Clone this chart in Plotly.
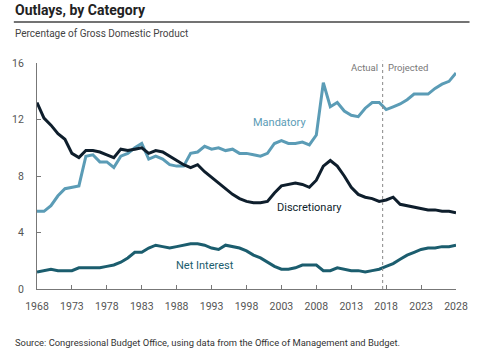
import plotly.graph_objects as go

years = list(range(1968, 2029))

mandatory = [5.5, 5.5, 5.9, 6.6, 7.1, 7.2, 7.3, 9.4, 9.5, 9.0,
             9.0, 8.6, 9.4, 9.6, 10.0, 10.3, 9.2, 9.4, 9.2, 8.8,
             8.7, 8.7, 9.6, 9.7, 10.1, 9.9, 10.0, 9.8, 9.9, 9.6,
             9.6, 9.5, 9.4, 9.6, 10.3, 10.5, 10.3, 10.3, 10.4, 10.2,
             10.9, 14.6, 12.9, 13.2, 12.6, 12.3, 12.2, 12.8, 13.2, 13.2,
             12.7, 12.9, 13.1, 13.4, 13.8, 13.8, 13.8, 14.2, 14.5, 14.7,
             15.3]

discretionary = [13.2, 12.1, 11.6, 11.0, 10.6, 9.6, 9.3, 9.8, 9.8, 9.7,
                 9.5, 9.3, 9.9, 9.8, 9.9, 10.0, 9.6, 9.8, 9.7, 9.4,
                 9.1, 8.8, 8.6, 8.8, 8.3, 7.9, 7.5, 7.1, 6.7, 6.4,
                 6.2, 6.1, 6.1, 6.2, 6.8, 7.3, 7.4, 7.5, 7.4, 7.2,
                 7.7, 8.7, 9.1, 8.7, 8.0, 7.2, 6.7, 6.5, 6.4, 6.2,
                 6.3, 6.5, 6.0, 5.9, 5.8, 5.7, 5.6, 5.6, 5.5, 5.5,
                 5.4]

net_interest = [1.2, 1.3, 1.4, 1.3, 1.3, 1.3, 1.5, 1.5, 1.5, 1.5,
                1.6, 1.7, 1.9, 2.2, 2.6, 2.6, 2.9, 3.1, 3.0, 2.9,
                3.0, 3.1, 3.2, 3.2, 3.1, 2.9, 2.8, 3.1, 3.0, 2.9,
                2.7, 2.4, 2.2, 1.9, 1.6, 1.4, 1.4, 1.5, 1.7, 1.7,
                1.7, 1.3, 1.3, 1.5, 1.4, 1.3, 1.3, 1.2, 1.3, 1.4,
                1.6, 1.8, 2.1, 2.4, 2.6, 2.8, 2.9, 2.9, 3.0, 3.0,
                3.1]

x_ticks = list(range(1968, 2029, 5))
y_ticks = [0, 4, 8, 12, 16]
divider_year = 2017.5

C_MAND = "#5b9cb6"
C_DISC = "#0e1e2c"
C_NI = "#1b5d6e"
FONT = "Roboto, sans-serif"

W, H = 480, 360
ml, mr, mt, mb = 28, 18, 63, 71
pw, ph = W - ml - mr, H - mt - mb


def px(xp):
    return (xp - ml) / pw


def py(yp):
    return (H - mb - yp) / ph


fig = go.Figure()
fig.add_trace(go.Scatter(x=years, y=mandatory, mode="lines",
                         line=dict(color=C_MAND, width=3), name="Mandatory"))
fig.add_trace(go.Scatter(x=years, y=discretionary, mode="lines",
                         line=dict(color=C_DISC, width=3), name="Discretionary"))
fig.add_trace(go.Scatter(x=years, y=net_interest, mode="lines",
                         line=dict(color=C_NI, width=3), name="Net Interest"))

fig.add_shape(type="line", xref="x", yref="paper", x0=divider_year, x1=divider_year,
              y0=0, y1=1.01, line=dict(color="#888888", width=1, dash="dot"))

fig.add_annotation(x=divider_year, y=py(67), xref="x", yref="paper", text="Actual",
                   showarrow=False, xanchor="right", xshift=-3, yanchor="middle",
                   font=dict(size=9.5, color="#777777", family=FONT))
fig.add_annotation(x=divider_year, y=py(67), xref="x", yref="paper", text="Projected",
                   showarrow=False, xanchor="left", xshift=3, yanchor="middle",
                   font=dict(size=9.5, color="#777777", family=FONT))

fig.add_annotation(x=2002.7, y=11.8, text="Mandatory", showarrow=False,
                   font=dict(size=11, color=C_MAND, family=FONT))
fig.add_annotation(x=2007.0, y=5.8, text="Discretionary", showarrow=False,
                   font=dict(size=11, color=C_DISC, family=FONT))
fig.add_annotation(x=1992.0, y=1.65, text="Net Interest", showarrow=False,
                   font=dict(size=11, color=C_NI, family=FONT))

fig.add_annotation(x=px(3), y=py(10), xref="paper", yref="paper",
                   text="<b>Outlays, by Category</b>", showarrow=False,
                   xanchor="left", yanchor="middle",
                   font=dict(size=14, color="#222222", family=FONT))
fig.add_shape(type="line", xref="paper", yref="paper", x0=px(4), x1=px(476),
              y0=py(22), y1=py(22), line=dict(color="#444444", width=1.5))
fig.add_annotation(x=px(3), y=py(34), xref="paper", yref="paper",
                   text="Percentage of Gross Domestic Product", showarrow=False,
                   xanchor="left", yanchor="middle",
                   font=dict(size=10, color="#444444", family=FONT))
fig.add_annotation(x=px(3), y=py(342), xref="paper", yref="paper",
                   text="Source: Congressional Budget Office, using data from the Office of Management and Budget.",
                   showarrow=False, xanchor="left", yanchor="middle",
                   font=dict(size=9.4, color="#333333", family=FONT))

fig.update_layout(
    width=W, height=H,
    margin=dict(l=ml, r=mr, t=mt, b=mb),
    paper_bgcolor="white", plot_bgcolor="white",
    showlegend=False,
    font=dict(family=FONT, size=11, color="#555555"),
    xaxis=dict(range=[1968, 2028], tickvals=x_ticks, ticks="inside", ticklen=4,
               tickcolor="#777777", showline=True, linecolor="#777777", linewidth=1,
               showgrid=False, zeroline=False, ticklabelstandoff=7,
               tickfont=dict(size=10.5, color="#555555")),
    yaxis=dict(range=[0, 16], tickvals=y_ticks, ticks="inside", ticklen=4,
               tickcolor="#777777", showline=True, linecolor="#777777", linewidth=1,
               showgrid=False, zeroline=False, ticklabelstandoff=10,
               tickfont=dict(size=10.5, color="#555555")),
)

fig.write_html("out.html", config={"displayModeBar": False},
               post_script="document.body.style.margin='0';document.body.style.padding='0';")
